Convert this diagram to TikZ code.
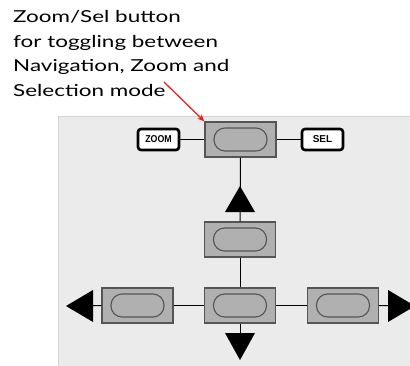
\documentclass[tikz,border=0pt]{standalone}
\usepackage{fontspec}
\setmainfont{Lato}
\newfontfamily\keyfont{Liberation Sans}
\usetikzlibrary{arrows.meta}
\definecolor{panelbg}{HTML}{EBEBEB}
\definecolor{panelrim}{HTML}{D4D4D4}
\definecolor{btnfill}{HTML}{B0B0B0}
\definecolor{btnrim}{HTML}{555555}
\definecolor{callout}{HTML}{E8231F}
\tikzset{
  btn/.style={draw=btnrim, line width=1.3pt, fill=btnfill, minimum width=71pt, minimum height=35pt, inner sep=0pt},
  pill/.style={draw=btnrim, line width=1.1pt, fill=btnfill, rounded corners=11pt, minimum width=53pt, minimum height=23pt, inner sep=0pt},
  keycap/.style={draw=black, line width=2.6pt, fill=white, rounded corners=3pt, minimum width=41pt, minimum height=21pt, inner sep=0pt, font=\keyfont\bfseries\fontsize{10}{11}\selectfont},
  wire/.style={line width=1pt, black},
  tri/.style={fill=black},
  note/.style={anchor=base west, inner sep=0pt, font=\fontsize{16.5}{18}\selectfont}
}
\newcommand{\wide}[1]{\scalebox{1.36}[1]{#1}}
\begin{document}
\begin{tikzpicture}[x=1pt, y=-1pt]
\useasboundingbox (0,0) rectangle (410,365);
% background panel
\fill[panelbg] (58,116) rectangle (412,367);
\draw[panelrim, line width=0.8pt] (58,367) -- (58,116) -- (412,116);
% caption
\node[note] (l1) at (13,22) {\wide{Zoom/Sel button}};
\node[note] (l2) at (13,47) {\wide{for toggling between}};
\node[note] (l3) at (13,71) {\wide{Navigation, Zoom and}};
\node[note] (l4) at (13,96) {\wide{Selection mode}};
% buttons
\node[btn] (top) at (240.5,139.5) {};
\node[btn] (mid) at (240,239.5) {};
\node[btn] (ctr) at (240,305.5) {};
\node[btn] (lft) at (137.5,305.5) {};
\node[btn] (rgt) at (343,305.5) {};
\foreach \b in {top,mid,ctr,lft,rgt} \node[pill] at (\b) {};
% mode keys
\node[keycap] (zoom) at (158.5,139.5) {\scalebox{0.88}[1]{ZOOM}};
\node[keycap] (sel) at (322.5,139.5) {SEL};
% direction markers
\coordinate (upT) at (240,199);
\coordinate (dnT) at (240,346);
\coordinate (lfT) at (80,306);
\coordinate (rtT) at (401,306);
% connectors
\draw[wire] (zoom) -- (top);
\draw[wire] (top) -- (sel);
\draw[wire] (top) -- (mid);
\draw[wire] (mid) -- (ctr);
\draw[wire] (lft) -- (ctr);
\draw[wire] (ctr) -- (rgt);
\draw[wire] (ctr.south) -- (dnT);
\draw[wire] (lft.west) -- (lfT);
\draw[wire] (rgt.east) -- (rtT);
% arrowheads
\fill[tri] (225,212) -- (240,186) -- (255,212) -- cycle;
\fill[tri] (225,333) -- (240,360) -- (255,333) -- cycle;
\fill[tri] (93,290) -- (66,306) -- (93,322) -- cycle;
\fill[tri] (388,290) -- (415,306) -- (388,322) -- cycle;
% callout arrow
\coordinate (cStart) at (164,82);
\draw[callout, line width=1.3pt, -{Stealth[length=7pt,width=6pt]}] (cStart) -- (top.north west);
\end{tikzpicture}
\end{document}
